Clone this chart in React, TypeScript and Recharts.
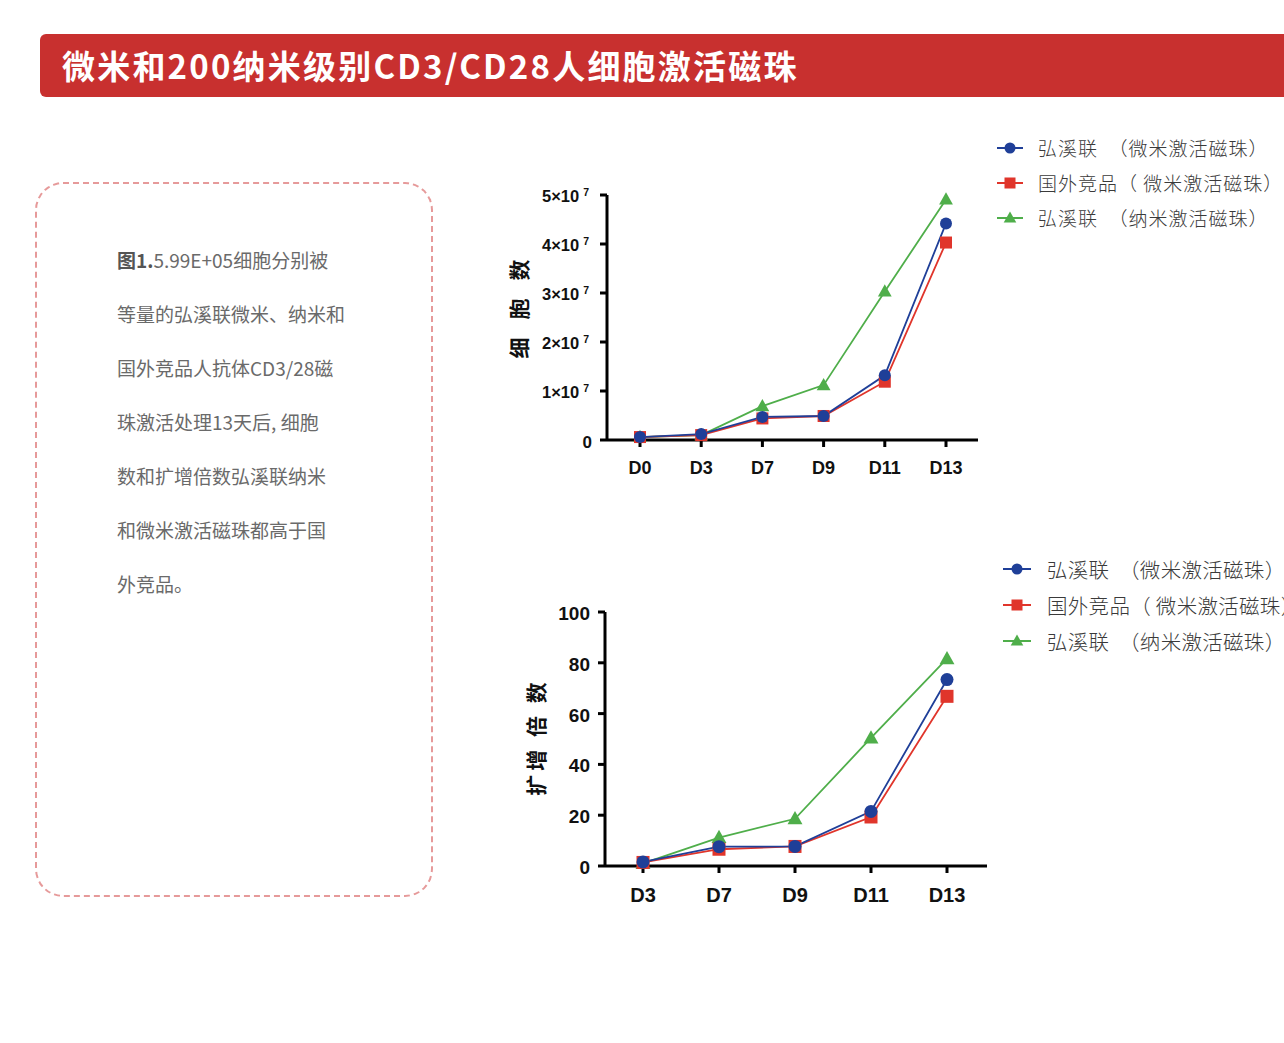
import React from 'react';
import { LineChart, Line, XAxis, YAxis } from 'recharts';

const countDays = ['D0', 'D3', 'D7', 'D9', 'D11', 'D13'];
const countMicro = [0.06e7, 0.12e7, 0.47e7, 0.49e7, 1.32e7, 4.42e7];
const countForeign = [0.06e7, 0.1e7, 0.44e7, 0.49e7, 1.19e7, 4.03e7];
const countNano = [0.06e7, 0.1e7, 0.69e7, 1.12e7, 3.03e7, 4.91e7];
const countTicks = [0, 1e7, 2e7, 3e7, 4e7, 5e7];

const foldDays = ['D3', 'D7', 'D9', 'D11', 'D13'];
const foldMicro = [1.6, 7.6, 7.7, 21.5, 73.4];
const foldForeign = [1.4, 6.6, 7.7, 19.3, 66.8];
const foldNano = [1.0, 11.2, 18.6, 50.4, 81.6];
const foldTicks = [0, 20, 40, 60, 80, 100];

const legendNames = ['弘溪联  （微米激活磁珠）', '国外竞品（ 微米激活磁珠）', '弘溪联  （纳米激活磁珠）'];

const noteLines = [
  '5.99E+05细胞分别被',
  '等量的弘溪联微米、纳米和',
  '国外竞品人抗体CD3/28磁',
  '珠激活处理13天后, 细胞',
  '数和扩增倍数弘溪联纳米',
  '和微米激活磁珠都高于国',
  '外竞品。'
];

const title = '微米和200纳米级别CD3/CD28人细胞激活磁珠';

// draw order: nano (green) under, micro (blue) on top
const series = [
  { key: 'nano', color: '#4fae4a', shape: 'triangle', legend: 2 },
  { key: 'foreign', color: '#e0352b', shape: 'square', legend: 1 },
  { key: 'micro', color: '#1f3f98', shape: 'circle', legend: 0 }
];
const legendOrder = ['micro', 'foreign', 'nano'];

const countData = countDays.map((day, i) => ({
  day,
  micro: countMicro[i],
  foreign: countForeign[i],
  nano: countNano[i]
}));

const foldData = foldDays.map((day, i) => ({
  day,
  micro: foldMicro[i],
  foreign: foldForeign[i],
  nano: foldNano[i]
}));

const axisFont = '"Liberation Sans", Arial, sans-serif';
const cjkFont = '"Noto Sans CJK SC", "Noto Sans", sans-serif';

function Marker({ shape, cx, cy, color, size }: any) {
  if (shape === 'circle') return <circle cx={cx} cy={cy} r={size / 2} fill={color} />;
  if (shape === 'square')
    return <rect x={cx - size / 2} y={cy - size / 2} width={size} height={size} fill={color} />;
  const w = size * 1.15;
  const pts = `${cx},${cy - size * 0.6} ${cx - w / 2},${cy + size * 0.42} ${cx + w / 2},${cy + size * 0.42}`;
  return <polygon points={pts} fill={color} />;
}

function PowTick({ x, y, payload }: any) {
  const v = payload.value;
  const style = { fontFamily: axisFont, fontWeight: 700, fill: '#111' };
  if (v === 0)
    return (
      <text x={x + 5} y={y} dy={8} textAnchor="end" fontSize={17} style={style}>
        0
      </text>
    );
  return (
    <text x={x + 2} y={y} dy={7} textAnchor="end" fontSize={16.5} style={style}>
      <tspan>{v / 1e7}×10</tspan>
      <tspan dx={4} dy={-6} fontSize={10.5}>7</tspan>
    </text>
  );
}

function NumTick({ x, y, payload }: any) {
  return (
    <text
      x={x}
      y={y}
      dy={8}
      textAnchor="end"
      fontSize={19}
      style={{ fontFamily: axisFont, fontWeight: 700, fill: '#111' }}
    >
      {payload.value}
    </text>
  );
}

function Legend({ left, top, pitch, fontSize, lineW, gap, spacing }: any) {
  return (
    <div style={{ position: 'absolute', left, top }}>
      {legendOrder.map((k) => {
        const s = series.find((d) => d.key === k)!;
        return (
          <div key={k} style={{ display: 'flex', alignItems: 'center', height: pitch }}>
            <svg width={lineW} height={16} style={{ marginRight: gap, flexShrink: 0 }}>
              <line x1={0} y1={8} x2={lineW} y2={8} stroke={s.color} strokeWidth={2} />
              <Marker shape={s.shape} cx={lineW / 2} cy={8} color={s.color} size={11} />
            </svg>
            <span
              style={{
                fontFamily: cjkFont,
                fontSize,
                color: '#3a3a3a',
                whiteSpace: 'pre',
                fontWeight: 300,
                letterSpacing: spacing
              }}
            >
              {legendNames[s.legend]}
            </span>
          </div>
        );
      })}
    </div>
  );
}

function YTitle({ cx, cy, text, spacing }: any) {
  return (
    <text
      x={cx}
      y={cy}
      transform={`rotate(-90 ${cx} ${cy})`}
      textAnchor="middle"
      dominantBaseline="central"
      fontSize={21}
      style={{ fontFamily: cjkFont, fontWeight: 700, fill: '#111', letterSpacing: spacing, whiteSpace: 'pre' }}
    >
      {text}
    </text>
  );
}

function renderLines(size: number) {
  return series.map((s) => (
    <Line
      key={s.key}
      dataKey={s.key}
      stroke={s.color}
      strokeWidth={1.8}
      isAnimationActive={false}
      dot={(p: any) => (
        <Marker key={`${s.key}-${p.index}`} shape={s.shape} cx={p.cx} cy={p.cy} color={s.color} size={size} />
      )}
      activeDot={false}
    />
  ));
}

const axisLine = { stroke: '#000', strokeWidth: 3 };

export default function App() {
  return (
    <div
      style={{
        position: 'absolute',
        left: 0,
        top: 0,
        width: 1284,
        height: 1043,
        overflow: 'hidden',
        background: '#fff'
      }}
    >
      <div
        style={{
          position: 'absolute',
          left: 40,
          top: 34,
          width: 1270,
          height: 63,
          background: '#c8302f',
          borderRadius: 6
        }}
      >
        <div
          style={{
            position: 'absolute',
            left: 22,
            top: 0,
            height: 63,
            lineHeight: '63px',
            color: '#fff',
            fontFamily: cjkFont,
            fontWeight: 700,
            fontSize: 33,
            letterSpacing: 2.2,
            whiteSpace: 'nowrap'
          }}
        >
          {title}
        </div>
      </div>

      <div
        style={{
          position: 'absolute',
          left: 35,
          top: 182,
          width: 394,
          height: 711,
          border: '2px dashed #e69a9a',
          borderRadius: 28
        }}
      />
      <div
        style={{
          position: 'absolute',
          left: 117,
          top: 233,
          fontFamily: cjkFont,
          fontSize: 19,
          lineHeight: '54px',
          color: '#6a6a6a',
          whiteSpace: 'pre'
        }}
      >
        {noteLines.map((t, i) => (
          <div key={i}>
            {i === 0 && <b style={{ color: '#555' }}>图1.</b>}
            {t}
          </div>
        ))}
      </div>

      <div style={{ position: 'absolute', left: 490, top: 130 }}>
        <LineChart
          width={794}
          height={380}
          data={countData}
          margin={{ top: 65, right: 306, left: 0, bottom: 0 }}
        >
          <XAxis
            dataKey="day"
            padding={{ left: 33, right: 32 }}
            height={70}
            axisLine={axisLine}
            tickLine={axisLine}
            tickSize={7}
            tickMargin={14}
            tick={{ fill: '#111', fontSize: 18, fontWeight: 700, fontFamily: axisFont }}
          />
          <YAxis
            width={117}
            domain={[0, 5e7]}
            ticks={countTicks}
            interval={0}
            axisLine={axisLine}
            tickLine={axisLine}
            tickSize={7}
            tickMargin={13}
            tick={<PowTick />}
          />
          {renderLines(12)}
          <YTitle cx={28} cy={170} text="细胞数" spacing={18} />
        </LineChart>
      </div>
      <Legend left={997} top={130} pitch={35} fontSize={19} lineW={26} gap={15} spacing={1} />

      <div style={{ position: 'absolute', left: 490, top: 550 }}>
        <LineChart
          width={794}
          height={380}
          data={foldData}
          margin={{ top: 62, right: 297, left: 0, bottom: 0 }}
        >
          <XAxis
            dataKey="day"
            padding={{ left: 38, right: 40 }}
            height={64}
            axisLine={axisLine}
            tickLine={axisLine}
            tickSize={7}
            tickMargin={15}
            tick={{ fill: '#111', fontSize: 20, fontWeight: 700, fontFamily: axisFont }}
          />
          <YAxis
            width={115}
            domain={[0, 100]}
            ticks={foldTicks}
            interval={0}
            axisLine={axisLine}
            tickLine={axisLine}
            tickSize={7}
            tickMargin={8}
            tick={<NumTick />}
          />
          {renderLines(13)}
          <YTitle cx={45} cy={187} text="扩增 倍 数" spacing={4} />
        </LineChart>
      </div>
      <Legend left={1003} top={551} pitch={36} fontSize={20.5} lineW={28} gap={16} spacing={0.3} />
    </div>
  );
}
